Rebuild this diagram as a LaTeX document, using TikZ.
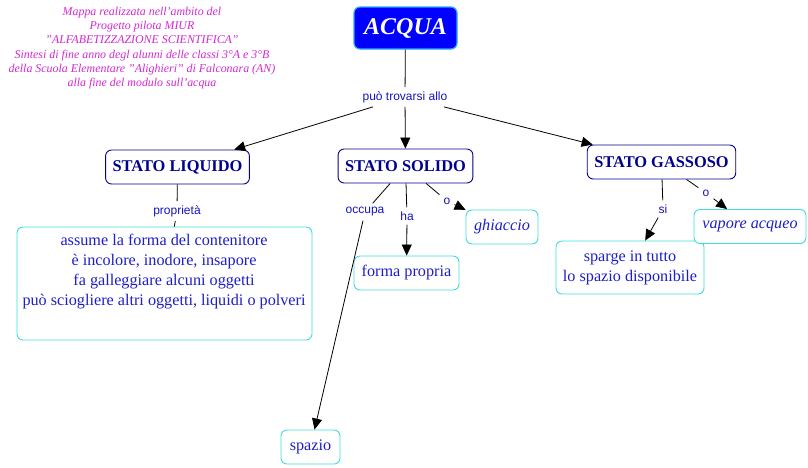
\documentclass[tikz,border=0pt]{standalone}
\usepackage{fontspec}
\setmainfont{Liberation Serif}
\setsansfont{Liberation Sans}
\usetikzlibrary{arrows.meta}
\definecolor{navyt}{RGB}{0,0,140}
\definecolor{bluet}{RGB}{30,30,200}
\definecolor{lbl}{RGB}{20,20,190}
\definecolor{cyanb}{RGB}{64,220,220}
\definecolor{mag}{RGB}{210,40,210}
\tikzset{
  statebox/.style={draw=navyt, rounded corners=6pt, line width=0.9pt, fill=white,
    font=\fontsize{16.4}{18}\selectfont\bfseries, text=navyt, minimum height=34pt, inner xsep=7pt},
  cbox/.style={draw=cyanb, rounded corners=6pt, line width=0.9pt, fill=white,
    font=\fontsize{16.2}{20}\selectfont, text=bluet, minimum height=34pt, inner xsep=6pt, align=center},
  lab/.style={font=\sffamily\fontsize{12}{14}\selectfont, text=lbl, inner sep=4pt},
  con/.style={draw=black, line width=0.8pt},
  arr/.style={con, -{Triangle[length=11pt,width=10pt]}}
}
\begin{document}
\begin{tikzpicture}[x=1pt,y=-1pt]
\useasboundingbox (0,0) rectangle (808,467);
% title note
\node[font=\itshape\fontsize{11.9}{14.3}\selectfont, text=mag, align=center] (note) at (142,48)
 {Mappa realizzata nell'ambito del\\Progetto pilota MIUR\\\symbol{34}ALFABETIZZAZIONE SCIENTIFICA\symbol{34}\\Sintesi di fine anno degl alunni delle classi 3°A e 3°B\\della Scuola Elementare \symbol{34}Alighieri\symbol{34} di Falconara (AN)\\alla fine del modulo sull'acqua};
% main concept
\node[draw={rgb,255:red,40;green,170;blue,255}, line width=1.2pt, fill={rgb,255:red,0;green,0;blue,255}, rounded corners=6pt,
  minimum width=103pt, minimum height=42pt, text=white, font=\fontsize{24}{26}\selectfont\bfseries\itshape] (acqua) at (405.5,28) {ACQUA};
\node[lab] (puo) at (405,97) {può trovarsi allo};
% states
\node[statebox] (liq) at (177.5,167) {STATO LIQUIDO};
\node[statebox] (sol) at (405.5,166) {STATO SOLIDO};
\node[statebox] (gas) at (661.5,162) {STATO GASSOSO};
% linking labels
\node[lab] (prop) at (177,211) {proprietà};
\node[lab] (occ) at (365,212) {occupa};
\node[lab] (ha) at (407,216) {ha};
\node[lab] (o1) at (447,201) {o};
\node[lab] (si) at (663,209) {si};
\node[lab] (o2) at (706,193) {o};
% concept boxes
\node[cbox, minimum width=295pt, minimum height=113pt] (liqbox) at (164.5,283.5) {};
\node[font=\fontsize{16.2}{20}\selectfont, text=bluet, align=center] (liqtxt) at (164,272)
 {assume la forma del contenitore\\è incolore, inodore, insapore\\fa galleggiare alcuni oggetti\\può sciogliere altri oggetti, liquidi o polveri};
\node[cbox, minimum width=105pt] (forma) at (406.5,273) {forma propria};
\node[cbox, minimum width=72pt, font=\fontsize{16.2}{20}\selectfont\itshape] (ghi) at (502,227) {ghiaccio};
\node[cbox, minimum width=59pt] (spazio) at (310.5,447) {spazio};
\node[cbox, minimum width=148pt, minimum height=53pt] (sparge) at (630,267.5) {sparge in tutto\\lo spazio disponibile};
\node[cbox, minimum width=112pt, font=\fontsize{16.2}{20}\selectfont\itshape] (vap) at (750,226.5) {vapore acqueo};
% connectors
\draw[con] (acqua) -- (puo);
\draw[arr] (puo) -- (liq);
\draw[arr] (puo) -- (sol);
\draw[arr] (puo) -- (gas);
\draw[con] (liq) -- (prop);
\draw[con] (prop) -- (liqbox);
\draw[con] (sol) -- (occ);
\draw[arr] (occ) -- (spazio);
\draw[con] (sol) -- (ha);
\draw[arr] (ha) -- (forma);
\draw[con] (sol) -- (o1);
\draw[arr] (o1) -- (ghi);
\draw[con] (gas) -- (si);
\draw[arr] (si) -- (sparge);
\draw[con] (gas) -- (o2);
\draw[arr] (o2) -- (vap);
\end{tikzpicture}
\end{document}
